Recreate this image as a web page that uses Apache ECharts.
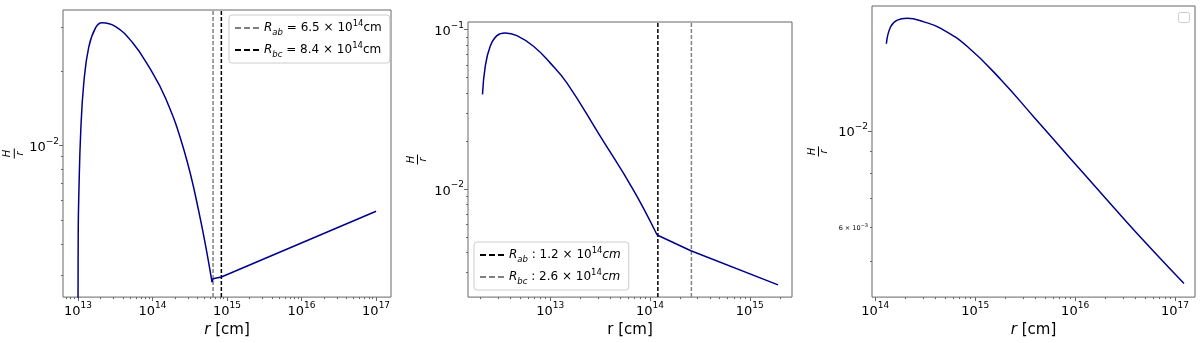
<!DOCTYPE html>
<html>
<head>
<meta charset="utf-8">
<script src="https://cdn.jsdelivr.net/npm/echarts@6/dist/echarts.min.js"></script>
<style>
  html, body { margin: 0; padding: 0; background: #fff; }
  #chart { width: 1200px; height: 343px; }
</style>
</head>
<body>
<div id="chart"></div>
<script>
// panel 1
const r1 = [1.0e13, 1.01e13, 1.03e13, 1.09e13, 1.2e13, 1.4e13, 1.73e13, 2.1e13, 3.2e13, 5.3e13, 8.95e13, 1.5e14, 2.64e14, 4.19e14, 6.3e14, 6.5e14, 8.4e14, 1e17];
const h1 = [1e-3, 4.5e-3, 6.4e-3, 0.0113, 0.0179, 0.025, 0.0299, 0.0313, 0.0302, 0.0262, 0.0208, 0.0155, 0.0096, 0.0054, 0.0028, 0.00289, 0.00294, 0.00542];
const kink1 = 14; // index where the curve breaks at R_ab
const rAb1 = 6.5e14, rBc1 = 8.4e14;

// panel 2
const r2 = [2.1e12, 2.24e12, 2.51e12, 2.93e12, 3.55e12, 4.64e12, 6.81e12, 1e13, 1.47e13, 3.16e13, 6.81e13, 1.18e14, 2.57e14, 1.92e15];
const h2 = [0.0393, 0.059, 0.0787, 0.0917, 0.0953, 0.0917, 0.0787, 0.0619, 0.0464, 0.0216, 0.0099, 0.00516, 0.00411, 0.00251];
const kink2 = 11;
const rAb2 = 1.2e14, rBc2 = 2.6e14;

// panel 3
const r3 = [1.29e14, 1.42e14, 1.66e14, 2.09e14, 3.07e14, 4.52e14, 8.39e14, 1.82e15, 3.94e15, 8.55e15, 1.85e16, 4.02e16, 1.23e17];
const h3 = [0.0159, 0.01738, 0.01803, 0.0182, 0.01786, 0.01725, 0.01565, 0.01312, 0.01072, 0.00875, 0.00716, 0.00586, 0.00445];

// axis limits and tick labels
const xLim = [[10 ** 12.8, 10 ** 17.2], [10 ** 12.177, 10 ** 15.423], [10 ** 13.967, 10 ** 17.2]];
const yLim = [[10 ** -2.613, 10 ** -1.453], [10 ** -2.677, 10 ** -0.952], [10 ** -2.383, 10 ** -1.7115]];
const xMajor = [[1e13, 1e14, 1e15, 1e16, 1e17], [1e13, 1e14, 1e15], [1e14, 1e15, 1e16, 1e17]];
const yMajor = [[1e-2], [1e-1, 1e-2], [1e-2]];
const yMinorLabels = [[], [], [6e-3]];

const FONT = 'DejaVu Sans';
const NAVY = '#00008b';
const FRAME = '#666';

function minorTicks(lim) {
  const out = [];
  for (let e = Math.floor(Math.log10(lim[0])); e <= Math.ceil(Math.log10(lim[1])); e++) {
    for (let m = 2; m <= 9; m++) {
      const v = m * 10 ** e;
      if (v > lim[0] && v < lim[1]) out.push(v);
    }
  }
  return out;
}

function powLabel(v) {
  const e = Math.round(Math.log10(v));
  if (Math.abs(v / 10 ** e - 1) < 1e-6) {
    return '{b|10}{s|' + (e < 0 ? '\u2212' + (-e) : e) + '}';
  }
  const m = Math.round(v / 10 ** Math.floor(Math.log10(v)));
  return '{sm|' + m + ' \u00d7 10}{ss|\u2212' + (-Math.floor(Math.log10(v))) + '}';
}

const labelRich = {
  b: { fontFamily: FONT, fontSize: 13, color: '#000', verticalAlign: 'bottom', lineHeight: 17 },
  s: { fontFamily: FONT, fontSize: 9, color: '#000', verticalAlign: 'top', lineHeight: 17 },
  sm: { fontFamily: FONT, fontSize: 6.5, color: '#000', verticalAlign: 'bottom', lineHeight: 9 },
  ss: { fontFamily: FONT, fontSize: 5, color: '#000', verticalAlign: 'top', lineHeight: 9 }
};

const grids = [
  { left: 63, top: 10, width: 328, height: 288 },
  { left: 468, top: 22, width: 324, height: 276 },
  { left: 872, top: 6, width: 323, height: 292 }
];
const xNames = ['{i|r} [cm]', 'r [cm]', '{i|r} [cm]'];
const yNameGap = [36, 40, 43];

const xAxis = [], yAxis = [];
grids.forEach((g, i) => {
  g.show = true;
  g.borderColor = FRAME;
  g.borderWidth = 1;
  g.backgroundColor = '#fff';
  xAxis.push({
    type: 'log', gridIndex: i, position: 'bottom', min: xLim[i][0], max: xLim[i][1],
    axisLine: { show: false },
    splitLine: { show: false },
    axisTick: { customValues: xMajor[i], length: 4, lineStyle: { color: FRAME } },
    axisLabel: { customValues: xMajor[i], formatter: powLabel, rich: labelRich, margin: 4 },
    name: xNames[i], nameLocation: 'middle', nameGap: 24,
    nameTextStyle: {
      fontFamily: FONT, fontSize: 15, color: '#000',
      rich: { i: { fontFamily: FONT, fontSize: 15, fontStyle: 'italic', color: '#000' } }
    }
  });
  xAxis.push({
    type: 'log', gridIndex: i, position: 'bottom', min: xLim[i][0], max: xLim[i][1],
    axisLine: { show: false }, splitLine: { show: false }, axisLabel: { show: false },
    axisTick: { customValues: minorTicks(xLim[i]), length: 2, lineStyle: { color: FRAME } }
  });
  yAxis.push({
    type: 'log', gridIndex: i, position: 'left', min: yLim[i][0], max: yLim[i][1],
    axisLine: { show: false },
    splitLine: { show: false },
    axisTick: { customValues: yMajor[i], length: 4, lineStyle: { color: FRAME } },
    axisLabel: { customValues: yMajor[i], formatter: powLabel, rich: labelRich, margin: 4 },
    name: '{h|H}\n{bar|}\n{r|r}', nameLocation: 'middle', nameRotate: 90, nameGap: yNameGap[i],
    nameTextStyle: {
      rich: {
        h: { fontFamily: FONT, fontSize: 10, fontStyle: 'italic', color: '#000', lineHeight: 10, align: 'center' },
        bar: { width: 10, height: 1, backgroundColor: '#000', lineHeight: 3, align: 'center' },
        r: { fontFamily: FONT, fontSize: 10, fontStyle: 'italic', color: '#000', lineHeight: 9, align: 'center' }
      }
    }
  });
  yAxis.push({
    type: 'log', gridIndex: i, position: 'left', min: yLim[i][0], max: yLim[i][1],
    axisLine: { show: false }, splitLine: { show: false },
    axisTick: { customValues: minorTicks(yLim[i]), length: 2, lineStyle: { color: FRAME } },
    axisLabel: { show: yMinorLabels[i].length > 0, customValues: yMinorLabels[i], formatter: powLabel, rich: labelRich, margin: 4 }
  });
});

const pairs = (xs, ys) => xs.map((x, k) => [x, ys[k]]);
const vline = (name, x, i, color) => ({
  name, type: 'line', xAxisIndex: 2 * i, yAxisIndex: 2 * i, symbol: 'none', silent: true,
  color,
  data: [[x, yLim[i][0]], [x, yLim[i][1]]],
  lineStyle: { color, width: 1.5, type: [4, 2] }, z: 3
});
const curve = (data, i, smooth) => ({
  type: 'line', xAxisIndex: 2 * i, yAxisIndex: 2 * i, symbol: 'none', data,
  smooth: smooth ? 0.45 : false,
  lineStyle: { color: NAVY, width: 1.5 }, z: 4
});

const p1 = pairs(r1, h1), p2 = pairs(r2, h2);
const series = [
  curve(p1.slice(0, kink1 + 1), 0, true),
  curve(p1.slice(kink1), 0, false),
  vline('ab1', rAb1, 0, '#808080'),
  vline('bc1', rBc1, 0, '#000'),
  curve(p2.slice(0, kink2 + 1), 1, true),
  curve(p2.slice(kink2), 1, false),
  vline('ab2', rAb2, 1, '#000'),
  vline('bc2', rBc2, 1, '#808080'),
  curve(pairs(r3, h3), 2, true)
];

const legendNames = {
  ab1: '{i|R}{sub|ab}{t| = 6.5 \u00d7 10}{sup|14}{t|cm}',
  bc1: '{i|R}{sub|bc}{t| = 8.4 \u00d7 10}{sup|14}{t|cm}',
  ab2: '{i|R}{sub|ab}{t| : 1.2 \u00d7 10}{sup|14}{i|cm}',
  bc2: '{i|R}{sub|bc}{t| : 2.6 \u00d7 10}{sup|14}{i|cm}'
};
const legendRich = {
  i: { fontFamily: FONT, fontSize: 12, fontStyle: 'italic', color: '#000', lineHeight: 18, verticalAlign: 'middle' },
  t: { fontFamily: FONT, fontSize: 12, color: '#000', lineHeight: 18, verticalAlign: 'middle' },
  sub: { fontFamily: FONT, fontSize: 8.5, fontStyle: 'italic', color: '#000', lineHeight: 18, verticalAlign: 'bottom' },
  sup: { fontFamily: FONT, fontSize: 8.5, color: '#000', lineHeight: 18, verticalAlign: 'top' }
};
const dashIcon = 'path://M0,0h6v2h-6z M9,0h6v2h-6z M18,0h6v2h-6z';
const legendBase = {
  orient: 'vertical', itemWidth: 24, itemHeight: 2, itemGap: 4, icon: dashIcon,
  backgroundColor: 'rgba(255,255,255,0.8)', borderColor: '#ccc', borderWidth: 1, borderRadius: 3,
  padding: [4, 8, 4, 6], selectedMode: false,
  formatter: n => legendNames[n], textStyle: { rich: legendRich }
};

const chart = echarts.init(document.getElementById('chart'), null, { renderer: 'canvas' });
chart.setOption({
  animation: false,
  backgroundColor: '#fff',
  grid: grids,
  xAxis, yAxis,
  legend: [
    Object.assign({}, legendBase, { data: ['ab1', 'bc1'], left: 229, top: 15 }),
    Object.assign({}, legendBase, { data: ['ab2', 'bc2'], left: 474, top: 242 })
  ],
  graphic: [{
    type: 'rect', left: 1178, top: 12, shape: { width: 11, height: 10, r: 2 },
    style: { fill: '#fff', stroke: '#ccc', lineWidth: 1 }
  }],
  series
});
</script>
</body>
</html>
